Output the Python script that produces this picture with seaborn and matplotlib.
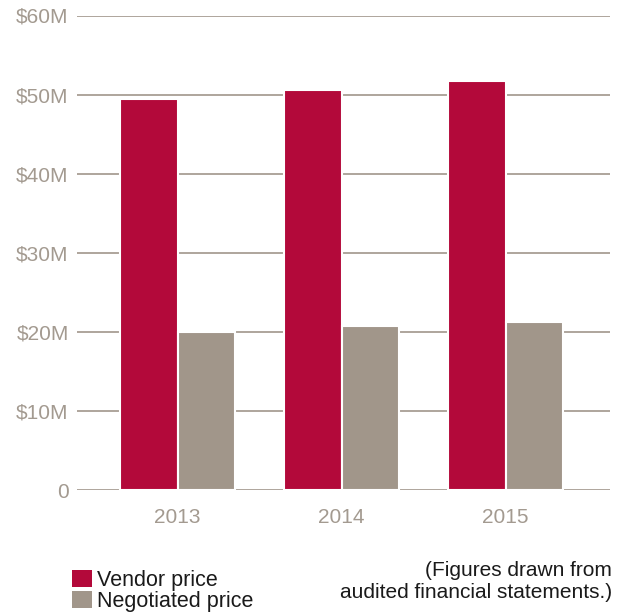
import matplotlib
matplotlib.use("Agg")
import matplotlib.pyplot as plt
import seaborn as sns
import pandas as pd
from matplotlib.patches import Patch

years = ["2013", "2014", "2015"]
series_names = ["Vendor price", "Negotiated price"]
vendor_price = [49.5, 50.6, 51.7]
negotiated_price = [20.0, 20.7, 21.2]
y_ticks = [0, 10, 20, 30, 40, 50, 60]
y_tick_labels = ["0", "$10M", "$20M", "$30M", "$40M", "$50M", "$60M"]
note_text = "(Figures drawn from\naudited financial statements.)"

RED = "#b3093a"
GRAY = "#a1968a"
GRID = "#a89e94"
LABEL = "#a39a90"

df = pd.DataFrame({
    "year": years * 2,
    "series": [series_names[0]] * 3 + [series_names[1]] * 3,
    "value": vendor_price + negotiated_price,
})

sns.set_theme(style="white")
plt.rcParams["font.family"] = ["Liberation Sans", "DejaVu Sans"]

fig = plt.figure(figsize=(6.24, 6.14), dpi=100)
ax = fig.add_axes([77 / 624, (614 - 490) / 614, (610 - 77) / 624, (490 - 15.5) / 614])

sns.barplot(data=df, x="year", y="value", hue="series", ax=ax,
            palette=[RED, GRAY], saturation=1, width=0.7,
            edgecolor="white", linewidth=1.5,
            legend=False, errorbar=None, zorder=3)

ax.set_ylim(0, 60)
ax.set_xlim(-0.613, 2.637)
ax.set_yticks(y_ticks)
ax.set_yticklabels(y_tick_labels)
ax.set_xlabel("")
ax.set_ylabel("")
ax.yaxis.grid(True, color=GRID, linewidth=1.3, zorder=0)
ax.set_axisbelow(True)
for s in ax.spines.values():
    s.set_visible(False)
ax.tick_params(axis="y", length=0, pad=6, labelsize=15, labelcolor=LABEL)
ax.tick_params(axis="x", length=0, pad=13, labelsize=15, labelcolor=LABEL)

handles = [Patch(facecolor=RED, edgecolor="none"), Patch(facecolor=GRAY, edgecolor="none")]
fig.legend(handles, series_names, loc="upper left",
           bbox_to_anchor=(72 / 624, 1 - 570 / 614), frameon=False,
           handlelength=0.93, handleheight=0.85, handletextpad=0.25,
           labelspacing=0.0, borderpad=0, borderaxespad=0,
           fontsize=15.5, labelcolor="#1a1a1a")

fig.text(612 / 624, 1 - 561 / 614, note_text, ha="right", va="top",
         fontsize=15, color="#1a1a1a", linespacing=1.2)

fig.savefig("out.png", dpi=100)
